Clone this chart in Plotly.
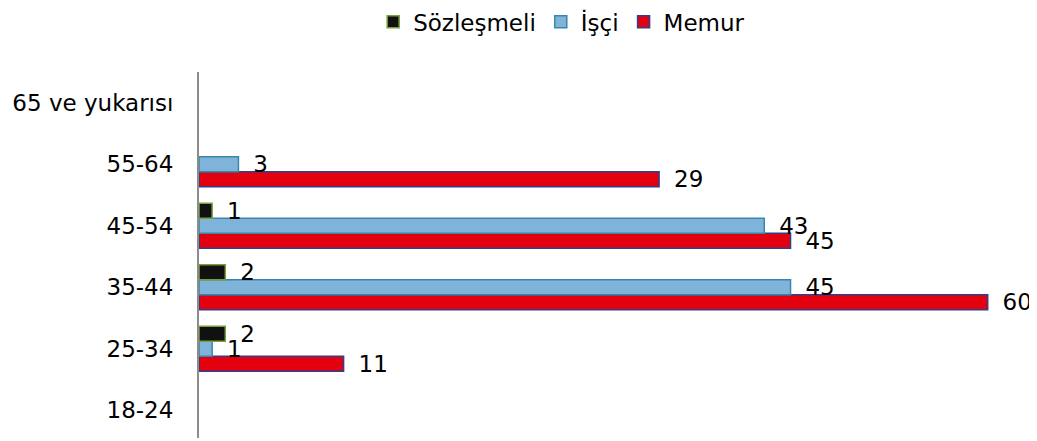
import plotly.graph_objects as go

categories = ["18-24", "25-34", "35-44", "45-54", "55-64", "65 ve yukarısı"]

sozlesmeli = [None, 2, 2, 1, None, None]
isci = [None, 1, 45, 43, 3, None]
memur = [None, 11, 60, 45, 35, None]

sozlesmeli_labels = ["", "2", "2", "1", "", ""]
isci_labels = ["", "1", "45", "43", "3", ""]
memur_labels = ["", "11", "60", "45", "29", ""]

FONT = "DejaVu Sans"
pad = "\u00a0\u2009"

def lab(lst):
    return [pad + t if t else "" for t in lst]

fig = go.Figure()

fig.add_trace(go.Bar(
    name="Memur", y=categories, x=memur, orientation="h",
    marker=dict(color="#E3000F", line=dict(color="#2F3F8F", width=1.5)),
    text=lab(memur_labels), textposition="outside", cliponaxis=False,
    constraintext="none", textfont=dict(family=FONT, size=23, color="black"),
))
fig.add_trace(go.Bar(
    name="İşçi", y=categories, x=isci, orientation="h",
    marker=dict(color="#7FB3DA", line=dict(color="#3A86A8", width=1.5)),
    text=lab(isci_labels), textposition="outside", cliponaxis=False,
    constraintext="none", textfont=dict(family=FONT, size=23, color="black"),
))
fig.add_trace(go.Bar(
    name="Sözleşmeli", y=categories, x=sozlesmeli, orientation="h",
    marker=dict(color="#111111", line=dict(color="#77A03A", width=1.5)),
    text=lab(sozlesmeli_labels), textposition="outside", cliponaxis=False,
    constraintext="none", textfont=dict(family=FONT, size=23, color="black"),
))

fig.update_layout(
    width=1029, height=433,
    margin=dict(l=191, r=23, t=64, b=3, autoexpand=False),
    barmode="group", bargap=0.27, bargroupgap=0,
    plot_bgcolor="white", paper_bgcolor="white",
    font=dict(family=FONT, size=23, color="black"),
    showlegend=True,
    legend=dict(
        orientation="h", traceorder="reversed",
        x=0.445, xanchor="center", y=1.196, yanchor="top",
        font=dict(family=FONT, size=23),
        itemwidth=30,
    ),
    xaxis=dict(range=[0, 62], visible=False, showgrid=False, zeroline=False),
    yaxis=dict(
        type="category", categoryorder="array", categoryarray=categories,
        range=[-0.45, 5.5], showline=True, linecolor="#8C8C8C", linewidth=2,
        showgrid=False, zeroline=False, ticks="", ticklabelstandoff=19,
        tickfont=dict(family=FONT, size=23, color="black"),
    ),
)

fig.write_html("out.html")
